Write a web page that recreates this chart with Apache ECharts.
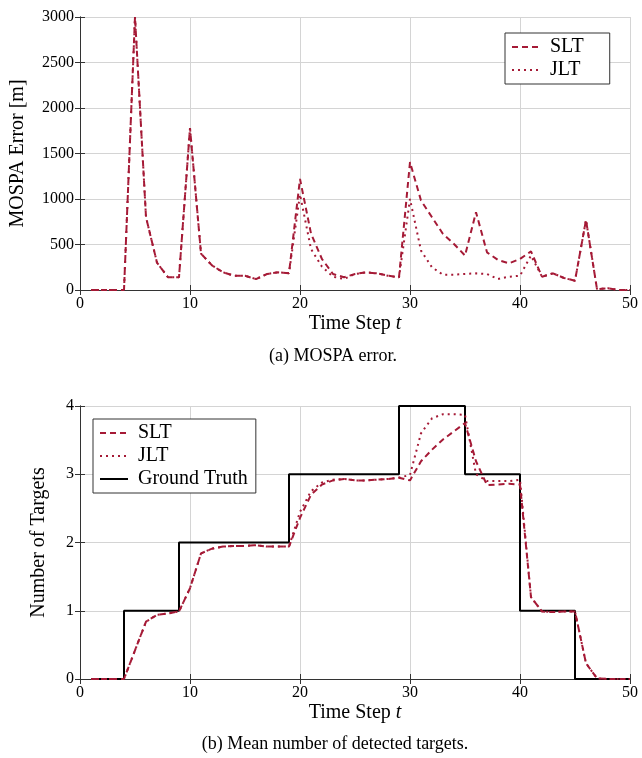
<!DOCTYPE html>
<html>
<head>
<meta charset="utf-8">
<script src="https://cdn.jsdelivr.net/npm/echarts@6/dist/echarts.min.js"></script>
<style>
  html, body { margin: 0; padding: 0; background: #fff; }
  #chart { width: 642px; height: 758px; }
</style>
</head>
<body>
<div id="chart"></div>
<script>
  // time axis
  const timeSteps = [1, 2, 3, 4, 5, 6, 7, 8, 9, 10, 11, 12, 13, 14, 15, 16, 17, 18, 19, 20,
    21, 22, 23, 24, 25, 26, 27, 28, 29, 30, 31, 32, 33, 34, 35, 36, 37, 38, 39, 40,
    41, 42, 43, 44, 45, 46, 47, 48, 49, 50]

  // (a) MOSPA error [m]
  const mospaSLT = [0, 0, 0, 0, 3000, 800, 300, 140, 140, 1780, 400, 270, 195, 157, 157, 120, 176, 194, 185, 1220,
    620, 340, 176, 140, 176, 194, 183, 157, 139, 1405, 983, 800, 616, 506, 378, 855, 414, 330, 293, 341,
    425, 146, 183, 132, 102, 770, 10, 20, 0, 0]
  const mospaJLT = [0, 0, 0, 0, 3000, 800, 300, 140, 140, 1780, 400, 270, 195, 157, 157, 120, 176, 194, 185, 1050,
    450, 256, 146, 121, 176, 194, 183, 157, 139, 1000, 433, 249, 168, 168, 177, 183, 176, 121, 146, 157,
    378, 146, 183, 132, 102, 770, 10, 20, 0, 0]

  // (b) mean number of detected targets
  const countSLT = [0, 0, 0, 0, 0.42, 0.84, 0.94, 0.96, 0.99, 1.33, 1.84, 1.91, 1.94, 1.95, 1.95, 1.96, 1.94, 1.94, 1.94, 2.36,
    2.7, 2.85, 2.91, 2.93, 2.91, 2.91, 2.92, 2.93, 2.95, 2.91, 3.19, 3.36, 3.51, 3.63, 3.75, 3.19, 2.84, 2.85, 2.86, 2.85,
    1.2, 0.99, 0.98, 0.99, 0.99, 0.23, 0.01, 0, 0, 0]
  const countJLT = [0, 0, 0, 0, 0.42, 0.84, 0.94, 0.96, 0.99, 1.33, 1.84, 1.91, 1.94, 1.95, 1.95, 1.96, 1.94, 1.94, 1.94, 2.45,
    2.75, 2.88, 2.92, 2.93, 2.91, 2.91, 2.92, 2.93, 2.95, 2.99, 3.6, 3.82, 3.88, 3.88, 3.87, 3.0, 2.9, 2.9, 2.9, 2.92,
    1.2, 0.99, 0.98, 0.99, 0.99, 0.23, 0.01, 0, 0, 0]

  // ground truth: level changes (time, new level)
  const truthTimes = [1, 4, 9, 19, 29, 35, 40, 45, 50]
  const truthLevels = [0, 1, 2, 3, 4, 3, 1, 0, 0]

  const red = '#a51a36'
  const serif = 'Liberation Serif'
  const frame = '#333'

  const pairs = (xs, ys) => xs.map((x, i) => [x, ys[i]])

  function xAxes(grid) {
    return [
      {
        gridIndex: grid, type: 'value', min: 0, max: 50, interval: 10,
        name: 'Time Step {i|t}', nameLocation: 'middle', nameGap: 24,
        nameTextStyle: { fontFamily: serif, fontSize: 20, color: '#000',
          rich: { i: { fontFamily: serif, fontStyle: 'italic', fontSize: 20, color: '#000' } } },
        axisLine: { lineStyle: { color: frame, width: 1 } },
        axisTick: { inside: true, length: 5, lineStyle: { color: frame } },
        axisLabel: { fontFamily: serif, fontSize: 16, color: '#000', margin: 6 },
        splitLine: { show: true, lineStyle: { color: '#d4d4d4' } }
      },
      {
        gridIndex: grid, type: 'value', position: 'top', min: 0, max: 50, interval: 10,
        axisLine: { lineStyle: { color: frame, width: 1 } },
        axisTick: { inside: true, length: 5, lineStyle: { color: frame } },
        axisLabel: { show: false }, splitLine: { show: false }
      }
    ]
  }

  function yAxes(grid, max, interval, name, gap) {
    return [
      {
        gridIndex: grid, type: 'value', min: 0, max: max, interval: interval,
        name: name, nameLocation: 'middle', nameGap: gap,
        nameTextStyle: { fontFamily: serif, fontSize: 20, color: '#000' },
        axisLine: { show: true, lineStyle: { color: frame, width: 1 } },
        axisTick: { show: true, inside: true, length: 5, lineStyle: { color: frame } },
        axisLabel: { fontFamily: serif, fontSize: 16, color: '#000', margin: 6, formatter: v => String(v) },
        splitLine: { show: true, lineStyle: { color: '#d4d4d4' } }
      },
      {
        gridIndex: grid, type: 'value', position: 'right', min: 0, max: max, interval: interval,
        axisLine: { show: true, lineStyle: { color: frame, width: 1 } },
        axisTick: { show: true, inside: true, length: 5, lineStyle: { color: frame } },
        axisLabel: { show: false }, splitLine: { show: false }
      }
    ]
  }

  function lineSeries(name, x, y, data, dash) {
    return {
      name: name, type: 'line', xAxisIndex: x, yAxisIndex: y,
      data: data, symbol: 'none', smooth: false,
      lineStyle: { color: red, width: 2, type: dash, cap: 'butt' },
      itemStyle: { color: red }
    }
  }

  const legendBase = {
    orient: 'vertical', backgroundColor: '#fff',
    borderColor: '#333', borderWidth: 1, borderRadius: 0,
    itemGap: 3, itemWidth: 28, itemHeight: 14,
    itemStyle: { opacity: 0 },
    textStyle: { fontFamily: serif, fontSize: 20, color: '#000', padding: [0, 0, 0, 5] }
  }

  const option = {
    animation: false,
    backgroundColor: '#fff',
    grid: [
      { left: 80, right: 12, top: 17, height: 273, outerBoundsMode: 'none' },
      { left: 80, right: 12, top: 406, height: 273, outerBoundsMode: 'none' }
    ],
    xAxis: [...xAxes(0), ...xAxes(1)],
    yAxis: [...yAxes(0, 3000, 500, 'MOSPA Error [m]', 52), ...yAxes(1, 4, 1, 'Number of Targets', 31)],
    legend: [
      { ...legendBase, left: 505, top: 33, padding: [4, 26, 4, 6], data: ['SLT', 'JLT'] },
      { ...legendBase, left: 93, top: 419, padding: [4, 8, 4, 6], data: ['SLT', 'JLT', 'Ground Truth'] }
    ],
    graphic: [
      { type: 'text', x: 333, y: 347, style: { text: '(a) MOSPA error.', align: 'center', fontFamily: serif, fontSize: 18, fill: '#000' } },
      { type: 'text', x: 335, y: 735, style: { text: '(b) Mean number of detected targets.', align: 'center', fontFamily: serif, fontSize: 18, fill: '#000' } }
    ],
    series: [
      lineSeries('SLT', 0, 0, pairs(timeSteps, mospaSLT), [6, 4]),
      lineSeries('JLT', 0, 0, pairs(timeSteps, mospaJLT), [2, 4]),
      {
        name: 'Ground Truth', type: 'line', xAxisIndex: 2, yAxisIndex: 2,
        data: pairs(truthTimes, truthLevels), step: 'end', symbol: 'none',
        lineStyle: { color: '#000', width: 2 }, itemStyle: { color: '#000' }
      },
      lineSeries('SLT', 2, 2, pairs(timeSteps, countSLT), [6, 4]),
      lineSeries('JLT', 2, 2, pairs(timeSteps, countJLT), [2, 4])
    ]
  }

  const chart = echarts.init(document.getElementById('chart'))
  chart.setOption(option)
</script>
</body>
</html>
